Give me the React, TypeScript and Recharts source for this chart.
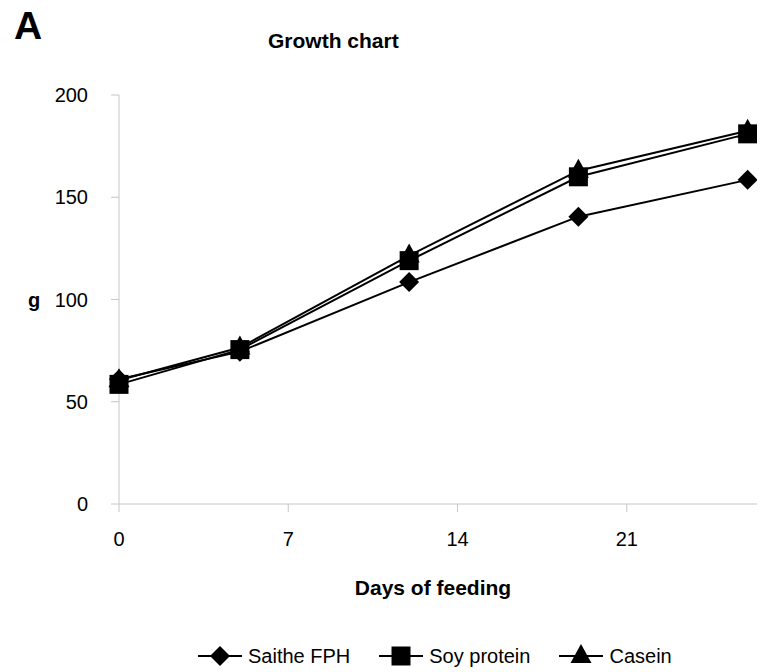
import React from "react";
import { Label, Line, LineChart, XAxis, YAxis } from "recharts";

// Growth chart: body weight (g) against days of feeding, three diets
const DAYS = [0, 5, 12, 19, 26];
const SAITHE_FPH = [61, 74.5, 108.5, 140.5, 158.5];
const SOY_PROTEIN = [58.5, 75.5, 119, 160, 181];
const CASEIN = [60.5, 76.5, 121.5, 163, 182.5];
const X_TICKS = [0, 7, 14, 21];
const Y_TICKS = [0, 50, 100, 150, 200];

const FONT = "'Liberation Sans', Arial, Helvetica, sans-serif";
const AXIS_GREY = "#c6c6c6";

const data = DAYS.map((day, i) => ({
  day,
  saithe: SAITHE_FPH[i],
  soy: SOY_PROTEIN[i],
  casein: CASEIN[i],
}));

type Shape = "diamond" | "square" | "triangle";

function markerPath(shape: Shape, cx: number, cy: number) {
  if (shape === "diamond") {
    return `M${cx},${cy - 10}L${cx + 10},${cy}L${cx},${cy + 10}L${cx - 10},${cy}Z`;
  }
  if (shape === "square") {
    return `M${cx - 9.5},${cy - 9.5}h19v19h-19Z`;
  }
  return `M${cx},${cy - 12}L${cx + 10.5},${cy + 7}L${cx - 10.5},${cy + 7}Z`;
}

const makeDot = (shape: Shape) => (props: any) => {
  const { cx, cy, index } = props;
  if (cx == null || cy == null) return <g key={`${shape}-${index}`} />;
  return <path key={`${shape}-${index}`} d={markerPath(shape, cx, cy)} fill="#000" />;
};

const LEGEND_ITEMS: { name: string; shape: Shape }[] = [
  { name: "Saithe FPH", shape: "diamond" },
  { name: "Soy protein", shape: "square" },
  { name: "Casein", shape: "triangle" },
];

// legend drawn as plain html under the plot (a recharts Legend would shrink the plot)
function ChartLegend() {
  return (
    <div
      style={{
        position: "absolute",
        left: 190,
        top: 636,
        display: "flex",
        gap: 29,
        fontFamily: FONT,
        fontSize: 20,
        color: "#000",
      }}
    >
      {LEGEND_ITEMS.map((item) => (
        <div key={item.name} style={{ display: "flex", alignItems: "center", gap: 6 }}>
          <svg width={44} height={24}>
            <line x1={0} y1={12} x2={44} y2={12} stroke="#000" strokeWidth={2} />
            <path d={markerPath(item.shape, 22, 12)} fill="#000" />
          </svg>
          <span style={{ whiteSpace: "nowrap" }}>{item.name}</span>
        </div>
      ))}
    </div>
  );
}

export default function App() {
  const tickStyle = { fill: "#000", fontSize: 20, fontFamily: FONT };
  return (
    <div style={{ position: "relative", width: 757, height: 664, fontFamily: FONT }}>
      {/* the x axis runs on past the right edge, so the chart itself is clipped */}
      <div style={{ position: "absolute", left: 0, top: 0, width: 757, height: 664, overflow: "hidden" }}>
        <LineChart width={800} height={664} data={data} margin={{ top: 87, right: 12, bottom: 0, left: 0 }}>
          <XAxis
            dataKey="day"
            type="number"
            domain={[0, 28]}
            ticks={X_TICKS}
            height={168}
            stroke={AXIS_GREY}
            tickSize={8}
            tickMargin={20}
            tick={tickStyle}
            interval={0}
          >
            <Label
              content={({ viewBox }: any) => (
                <text
                  x={viewBox.x + 314}
                  y={viewBox.y + 91}
                  textAnchor="middle"
                  fontFamily={FONT}
                  fontSize={21}
                  fontWeight="bold"
                  fill="#000"
                >
                  Days of feeding
                </text>
              )}
            />
          </XAxis>
          <YAxis
            type="number"
            domain={[0, 200]}
            ticks={Y_TICKS}
            width={111}
            stroke={AXIS_GREY}
            tickSize={8}
            tickMargin={23}
            tick={tickStyle}
            interval={0}
          >
            <Label
              content={({ viewBox }: any) => (
                <text
                  x={viewBox.x + 20}
                  y={viewBox.y + viewBox.height / 2}
                  dy="0.36em"
                  fontFamily={FONT}
                  fontSize={20}
                  fontWeight="bold"
                  fill="#000"
                >
                  g
                </text>
              )}
            />
          </YAxis>
          <Line
            dataKey="saithe"
            name="Saithe FPH"
            stroke="#000"
            strokeWidth={2}
            dot={makeDot("diamond")}
            activeDot={false}
            isAnimationActive={false}
          />
          <Line
            dataKey="casein"
            name="Casein"
            stroke="#000"
            strokeWidth={2}
            dot={makeDot("triangle")}
            activeDot={false}
            isAnimationActive={false}
          />
          <Line
            dataKey="soy"
            name="Soy protein"
            stroke="#000"
            strokeWidth={2}
            dot={makeDot("square")}
            activeDot={false}
            isAnimationActive={false}
          />
        </LineChart>
      </div>
      <div style={{ position: "absolute", left: 6, top: -4, fontSize: 39, fontWeight: "bold" }}>A</div>
      <div style={{ position: "absolute", left: 260, top: 21, fontSize: 21, lineHeight: "24px", fontWeight: "bold" }}>
        Growth chart
      </div>
      <ChartLegend />
    </div>
  );
}
